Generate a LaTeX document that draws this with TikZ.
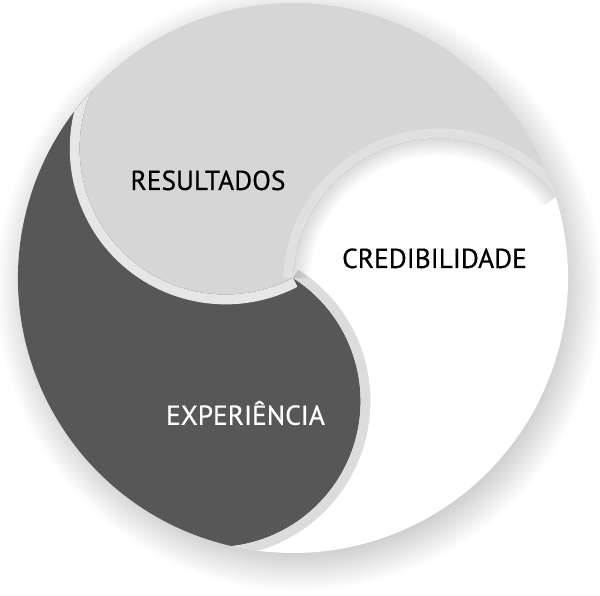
\documentclass[tikz,border=0pt]{standalone}
\usepackage{fontspec}
\newfontfamily\labelfont[FakeBold=0.5]{PT Sans}
\definecolor{resgray}{HTML}{D6D6D6}
\definecolor{expdark}{HTML}{575757}
\definecolor{rimlight}{HTML}{E6E6E6}
\definecolor{rimgray}{HTML}{E0E0E0}
\definecolor{rimdark}{HTML}{DCDCDC}
\def\outerR{275}
\def\headR{146}
\newcommand\commapath{(137.14:\outerR) arc[start angle=137.14,end angle=17.14,radius=\outerR]
  arc[start angle=36.78,end angle=177.5,radius=\headR]
  arc[start angle=297.5,end angle=156.78,radius=\headR] -- cycle}

\begin{document}
\begin{tikzpicture}[x=0.025cm,y=0.025cm,
    rim/.style={line width=14pt},
    txt/.style={font=\labelfont\fontsize{19.5}{23}\selectfont,inner sep=0pt,anchor=base}]
  \useasboundingbox (-293,-318) rectangle (307,278);
  \foreach \i in {0,...,19}
    \fill[black,opacity=0.012] (6,-10) circle[radius=255+2.5*\i];

  \fill[resgray] \commapath;
  \fill[white,rotate=-120] \commapath;
  \fill[expdark,rotate=120] \commapath;

  \foreach \rot/\col/\tail in {0/rimlight/120,-120/rimgray/0,120/rimdark/-120}{
    \begin{scope}
      \clip[rotate=\tail] \commapath;
      \draw[rim,\col,rotate=\rot] (0,0) arc[start angle=297.5,end angle=156.78,radius=\headR];
    \end{scope}
  }
  \begin{scope}
    \clip[rotate=-120] \commapath;
    \foreach \w in {2,4,...,36}
      \draw[black,opacity=0.008,line width=\w*0.7pt,rotate=-120] (0,0) arc[start angle=297.5,end angle=156.78,radius=\headR];
  \end{scope}

  \node[txt] (res) at (-85,88) {RESULTADOS};
  \node[txt] (cred) at (141.5,10) {CREDIBILIDADE};
  \node[txt,white] (exp) at (-47.5,-146.8) {EXPERIÊNCIA};
\end{tikzpicture}
\end{document}
